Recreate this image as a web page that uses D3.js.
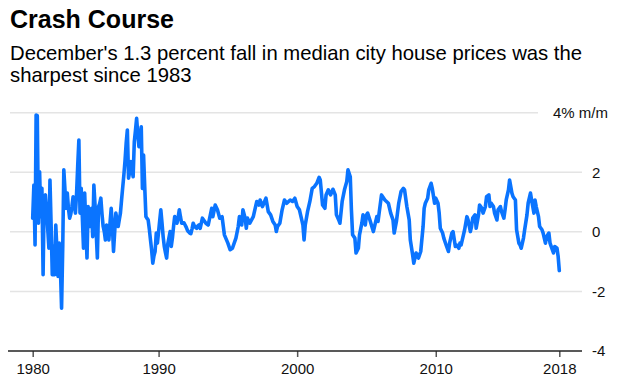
<!DOCTYPE html>
<html>
<head>
<meta charset="utf-8">
<script src="https://cdn.jsdelivr.net/npm/d3@7/dist/d3.min.js"></script>
<style>
  html, body { margin: 0; padding: 0; background: #fff; }
  svg { display: block; font-family: "Liberation Sans", Arial, sans-serif; }
</style>
</head>
<body>
<svg id="chart" width="620" height="386"></svg>
<script>
const title = "Crash Course";
const subtitleLines = [
  "December's 1.3 percent fall in median city house prices was the",
  "sharpest since 1983"
];

const months = [
"1980-12","1981-01","1981-02","1981-03","1981-04","1981-05","1981-06","1981-07","1981-08","1981-09","1981-10","1981-11","1981-12",
"1982-01","1982-02","1982-03","1982-04","1982-05","1982-06","1982-07","1982-08","1982-09","1982-10","1982-11","1982-12",
"1983-01","1983-02","1983-03","1983-04","1983-05","1983-06","1983-07","1983-08","1983-09","1983-10","1983-11","1983-12",
"1984-01","1984-02","1984-03","1984-04","1984-05","1984-06","1984-07","1984-08","1984-09","1984-10","1984-11","1984-12",
"1985-01","1985-02","1985-03","1985-04","1985-05","1985-06","1985-07","1985-08","1985-09","1985-10","1985-11","1985-12",
"1986-01","1986-02","1986-03","1986-04","1986-05","1986-06","1986-07","1986-08","1986-09","1986-10","1986-11","1986-12",
"1987-01","1987-02","1987-03","1987-04","1987-05","1987-06","1987-07","1987-08","1987-09","1987-10","1987-11","1987-12",
"1988-01","1988-02","1988-03","1988-04","1988-05","1988-06","1988-07","1988-08","1988-09","1988-10","1988-11","1988-12",
"1989-01","1989-02","1989-03","1989-04","1989-05","1989-06","1989-07","1989-08","1989-09","1989-10","1989-11","1989-12",
"1990-01","1990-02","1990-03","1990-04","1990-05","1990-06","1990-07","1990-08","1990-09","1990-10","1990-11","1990-12",
"1991-01","1991-02","1991-03","1991-04","1991-05","1991-06","1991-07","1991-08","1991-09","1991-10","1991-11","1991-12",
"1992-01","1992-02","1992-03","1992-04","1992-05","1992-06","1992-07","1992-08","1992-09","1992-10","1992-11","1992-12",
"1993-01","1993-03","1993-06","1993-08","1993-11","1993-12",
"1994-02","1994-04","1994-06","1994-08","1994-10",
"1995-01","1995-03","1995-05","1995-08","1995-10","1995-11",
"1996-01","1996-02","1996-04","1996-05","1996-06","1996-08","1996-11","1996-12",
"1997-02","1997-04","1997-05","1997-07","1997-10","1997-12",
"1998-02","1998-04","1998-06","1998-07","1998-08","1998-10","1998-12",
"1999-02","1999-04","1999-07","1999-09","1999-11",
"2000-01","2000-03","2000-05","2000-06","2000-07","2000-08","2000-10","2000-12",
"2001-02","2001-04","2001-06","2001-08","2001-09","2001-11",
"2002-01","2002-02","2002-04","2002-06","2002-08","2002-10","2002-11",
"2003-01","2003-02","2003-04","2003-06","2003-08","2003-09","2003-11","2003-12",
"2004-01","2004-03","2004-04","2004-06","2004-07","2004-09","2004-10","2004-12",
"2005-01","2005-02","2005-04","2005-07","2005-10","2005-11",
"2006-02","2006-05","2006-08","2006-10","2006-12",
"2007-01","2007-03","2007-05","2007-07","2007-09","2007-10","2007-12",
"2008-02","2008-03","2008-05","2008-06","2008-08","2008-10","2008-12",
"2009-02","2009-03","2009-04","2009-06","2009-07","2009-09","2009-10","2009-12",
"2010-01","2010-03","2010-04","2010-05","2010-07","2010-08","2010-10","2010-12",
"2011-01","2011-03","2011-04","2011-06","2011-07","2011-09","2011-10","2011-11",
"2012-01","2012-02","2012-04","2012-05","2012-07","2012-08","2012-09","2012-11","2012-12",
"2013-02","2013-03","2013-05","2013-06","2013-08","2013-09","2013-11","2013-12",
"2014-01","2014-03","2014-04","2014-06","2014-07","2014-09","2014-10","2014-12",
"2015-01","2015-02","2015-04","2015-05","2015-07","2015-08","2015-10","2015-11",
"2016-01","2016-02","2016-03","2016-05","2016-06","2016-08","2016-09","2016-11","2016-12",
"2017-02","2017-03","2017-04","2017-06","2017-07","2017-09","2017-10","2017-12",
"2018-01","2018-03","2018-04","2018-05","2018-07","2018-08","2018-10","2018-11","2018-12"
];

const changePct = [
0.46,1.57,-0.44,3.92,3.9,0.29,2.02,0.51,1.46,-1.44,1.18,1.24,0.74,
0.1,-0.55,1.74,0.2,-1.44,-0.49,-1.44,0.23,-0.6,-1.5,-0.38,-1.2,
-2.56,-0.49,2.08,1.4,0.79,1.3,0.79,0.46,0.6,0.85,1.18,0.9,
0.63,1.3,2.2,3.08,0.63,1.46,0.5,-0.55,1.3,0.2,-0.88,0.85,
0.18,0.5,0.79,-0.16,1.57,0.9,0.0,-0.88,0.85,0.95,1.13,0.6,
0.18,0.0,-0.27,0.23,0.0,-0.27,0.3,0.79,0.2,-0.66,0.0,0.63,
0.4,0.18,0.4,0.63,1.07,1.5,1.91,2.4,3.0,3.42,1.8,2.0,
2.36,2.1,1.85,3.03,3.4,3.81,3.3,2.86,3.1,3.53,1.46,2.58,
1.5,0.51,0.45,0.4,0.1,-0.27,-0.6,-1.05,-0.8,-0.66,-0.04,-0.38,
0.0,0.4,0.74,0.3,-0.16,-0.5,-0.7,-0.88,-0.4,-0.2,0.01,-0.49,
-0.2,0.2,0.51,0.4,0.29,0.5,0.74,0.5,0.29,0.3,0.3,0.23,
0.15,0.05,0.0,-0.04,-0.06,0.1,0.29,0.2,0.15,0.12,0.2,0.23,
0.12,0.46,0.29,0.23,0.79,0.51,
0.9,0.74,0.46,0.51,-0.1,
-0.38,-0.6,-0.55,-0.21,0.18,0.51,
0.23,0.74,0.46,0.12,0.46,0.29,0.51,0.68,
1.02,0.9,1.07,0.85,1.13,0.68,
0.57,0.35,0.23,0.01,0.18,0.29,0.74,
1.07,0.96,1.07,1.02,1.13,
0.85,0.74,0.4,0.23,-0.27,0.23,0.68,1.02,
1.46,1.52,1.63,1.83,1.74,0.9,
0.79,1.24,1.41,1.24,1.43,1.24,0.57,
0.4,0.29,1.02,1.41,1.69,2.08,1.85,0.74,
-0.1,-0.21,-0.71,-0.55,-0.1,0.29,0.57,0.23,
0.57,0.63,0.4,0.01,0.51,0.35,
1.24,1.07,0.96,0.63,0.40,
-0.04,0.35,0.96,1.35,1.46,1.41,0.85,
0.40,-0.27,-0.77,-1.05,-0.71,-0.88,-0.66,
0.18,0.79,0.96,1.13,1.41,1.63,1.46,0.96,
1.13,0.96,0.63,0.12,-0.04,-0.21,-0.44,-0.66,
-0.38,-0.04,0.01,-0.49,-0.44,-0.55,-0.38,-0.44,
-0.10,0.07,0.51,0.40,0.01,0.18,0.46,0.57,0.12,
0.57,0.90,0.79,0.63,0.85,1.18,1.24,0.85,
0.96,0.85,0.63,0.40,0.74,0.85,0.68,0.46,
0.74,1.07,1.41,1.74,1.30,1.18,1.07,0.07,
-0.38,-0.44,-0.55,-0.21,0.07,0.57,0.96,1.30,1.07,
0.63,1.07,0.85,0.51,0.18,0.07,-0.04,-0.38,
-0.16,-0.04,-0.38,-0.49,-0.71,-0.49,-0.55,-0.83,-1.3
];

const xTickDates = ["1980-12","1990-01","2000-01","2010-01","2018-12"];
const xTickLabels = ["1980","1990","2000","2010","2018"];
const yTickValues = [-4, -2, 0, 2, 4];
const yTickLabels = ["-4", "-2", "0", "2", "4% m/m"];

const parse = d3.timeParse("%Y-%m");
const data = months.map((m, i) => ({ date: parse(m), value: changePct[i] }));

const svg = d3.select("#chart");

// Titles
svg.append("text").attr("x", 10).attr("y", 28)
  .attr("font-size", 25).attr("font-weight", "bold").attr("fill", "#000")
  .text(title);
svg.append("text").attr("x", 10).attr("y", 60)
  .attr("font-size", 20.3).attr("fill", "#000")
  .selectAll("tspan").data(subtitleLines).join("tspan")
  .attr("x", 10).attr("dy", (d, i) => i === 0 ? 0 : 21.5).text(d => d);

const x = d3.scaleTime()
  .domain([parse("1980-12"), parse("2018-12")])
  .range([32.7, 559.3]);
const y = d3.scaleLinear().domain([-4, 4]).range([351, 112.7]);

// Gridlines
svg.append("g").selectAll("line")
  .data(yTickValues.filter(v => v > -4)).join("line")
  .attr("x1", 10)
  .attr("x2", d => d === 4 ? 538 : 582)
  .attr("y1", d => y(d)).attr("y2", d => y(d))
  .attr("stroke", "#e4e4e4").attr("stroke-width", 1.5);

// Y labels (right)
svg.append("g").selectAll("text")
  .data(yTickValues).join("text")
  .attr("x", d => d === 4 ? 608 : 592)
  .attr("text-anchor", d => d === 4 ? "end" : "start")
  .attr("y", d => y(d)).attr("dy", "0.35em")
  .attr("font-size", 15).attr("fill", "#111")
  .text((d, i) => yTickLabels[i]);

// X axis
const xAxis = d3.axisBottom(x)
  .tickValues(xTickDates.map(parse))
  .tickFormat((d, i) => xTickLabels[i])
  .tickSize(6).tickSizeOuter(0).tickPadding(6);
const gx = svg.append("g").attr("transform", `translate(0,${y(-4)})`).call(xAxis);
gx.select(".domain").remove();
gx.selectAll(".tick line").attr("stroke", "#555").attr("stroke-width", 1.5);
gx.selectAll(".tick text").attr("font-size", 15).attr("fill", "#111")
  .attr("font-family", "\"Liberation Sans\", Arial, sans-serif");
svg.append("line").attr("x1", 8).attr("x2", 582)
  .attr("y1", y(-4)).attr("y2", y(-4))
  .attr("stroke", "#222").attr("stroke-width", 1.5);

// Line
const line = d3.line().x(d => x(d.date)).y(d => y(d.value));
svg.append("path").datum(data)
  .attr("d", line).attr("fill", "none")
  .attr("stroke", "#0a74ff").attr("stroke-width", 3.6)
  .attr("stroke-linejoin", "round").attr("stroke-linecap", "round");
</script>
</body>
</html>
